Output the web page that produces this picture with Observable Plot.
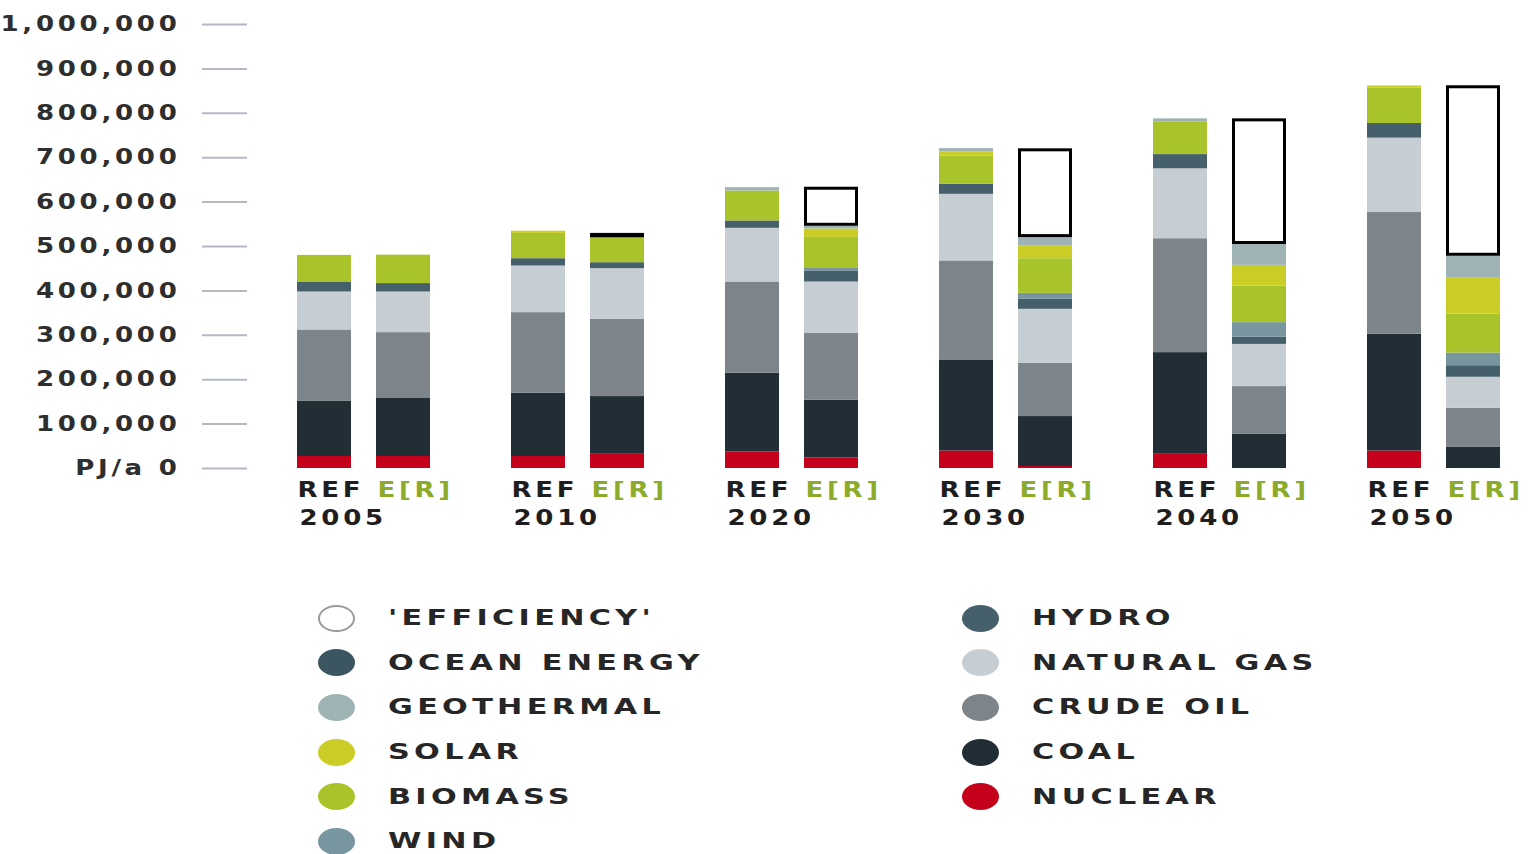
<!DOCTYPE html>
<html>
<head>
<meta charset="utf-8">
<script src="https://cdn.jsdelivr.net/npm/d3@7"></script>
<script src="https://cdn.jsdelivr.net/npm/@observablehq/plot@0.6"></script>
<style>
  html, body { margin: 0; padding: 0; background: #fff; }
  body { width: 1530px; height: 854px; overflow: hidden; font-family: "DejaVu Sans", sans-serif; }
  #legend { display: grid; grid-template-columns: 644px 560px; padding-left: 318px; padding-top: 51px; }
  .col { display: flex; flex-direction: column; }
  .item { display: flex; align-items: center; height: 44.6px; }
  .dot { width: 37px; height: 27px; border-radius: 50%; box-sizing: border-box; margin-right: 33px; flex: none; }
  .lab { display: inline-block; font-size: 21px; font-weight: bold; letter-spacing: 3px; color: #262626; white-space: nowrap;
         transform: scaleX(1.44); transform-origin: left center; }
</style>
</head>
<body>
<div id="chart"></div>
<div id="legend"></div>
<script>
// ---- data (PJ/a) ----
const years = ["2005", "2010", "2020", "2030", "2040", "2050"];
const scenarios = ["REF", "E[R]"];
// order of each array: 2005 REF, 2005 E[R], 2010 REF, 2010 E[R], ... 2050 REF, 2050 E[R]
const nuclear    = [27000, 27000, 27000, 32000, 37500, 24000, 39500, 4500, 32000, 0, 39500, 0];
const coal       = [125000, 132000, 142500, 130000, 177000, 130000, 205000, 112500, 229000, 77000, 263000, 47500];
const crudeOil   = [160000, 147000, 181500, 174000, 205500, 150000, 223000, 120000, 256500, 107500, 274000, 88000];
const naturalGas = [85500, 91500, 105000, 114000, 121000, 116000, 150000, 121500, 157500, 95000, 167500, 70000];
const hydro      = [22500, 19000, 16500, 13500, 16500, 25000, 22500, 22500, 32000, 16500, 33000, 26000];
const oceanEnergy= [0, 0, 0, 0, 0, 0, 0, 0, 0, 0, 0, 0];
const wind       = [0, 0, 0, 0, 0, 5500, 0, 13500, 0, 32500, 0, 28500];
const biomass    = [60000, 64000, 57000, 56000, 67500, 70000, 64000, 78000, 73000, 82500, 79500, 88000];
const solar      = [0, 0, 5000, 0, 0, 19000, 9000, 28500, 0, 46500, 5000, 80500];
const geothermal = [0, 0, 0, 0, 7500, 6000, 7500, 19000, 7500, 47000, 0, 49500];
const efficiency = [0, 0, 0, 10000, 0, 88000, 0, 200000, 0, 283000, 0, 384000];

const sources = ["NUCLEAR", "COAL", "CRUDE OIL", "NATURAL GAS", "HYDRO", "OCEAN ENERGY", "WIND", "BIOMASS", "SOLAR", "GEOTHERMAL"];
const sourceValues = [nuclear, coal, crudeOil, naturalGas, hydro, oceanEnergy, wind, biomass, solar, geothermal];
const sourceColors = ["#c4001a", "#222e35", "#7d858a", "#c6ced3", "#45606a", "#3b5661", "#7896a0", "#a9c42a", "#cacd26", "#9fb3b5"];

const yTicks = [0, 100000, 200000, 300000, 400000, 500000, 600000, 700000, 800000, 900000, 1000000];

const legendLeft = ["'EFFICIENCY'", "OCEAN ENERGY", "GEOTHERMAL", "SOLAR", "BIOMASS", "WIND"];
const legendRight = ["HYDRO", "NATURAL GAS", "CRUDE OIL", "COAL", "NUCLEAR"];

// ---- build stacked table ----
const rows = [];
const effRows = [];
years.forEach((year, yi) => {
  scenarios.forEach((scen, si) => {
    const idx = yi * 2 + si;
    let cum = 0;
    sources.forEach((src, k) => {
      const v = sourceValues[k][idx];
      if (v > 0) rows.push({year, scen, source: src, y1: cum, y2: cum + v});
      cum += v;
    });
    if (efficiency[idx] > 0) effRows.push({year, scen, y1: cum, y2: cum + efficiency[idx]});
  });
});
const labelRows = [];
years.forEach(year => scenarios.forEach(scen => labelRows.push({year, scen})));

const chart = Plot.plot({
  width: 1530,
  height: 545,
  marginLeft: 295,
  marginRight: 27,
  marginTop: 24,
  marginBottom: 77,
  style: {fontFamily: "DejaVu Sans, sans-serif", background: "white"},
  fx: {domain: years, paddingInner: 0.372, paddingOuter: 0, axis: null},
  x: {domain: scenarios, paddingInner: 0.3125, paddingOuter: 0, axis: null},
  y: {domain: [0, 1000000], axis: null},
  color: {domain: sources, range: sourceColors},
  marks: [
    Plot.axisY(yTicks, {
      anchor: "left",
      tickSize: 45,
      tickPadding: 22,
      dx: -50,
      stroke: "#b3b8c3",
      strokeWidth: 2,
      fill: "#2e2e2e",
      fontSize: 21,
      fontWeight: "bold",
      tickFormat: d => d === 0 ? "PJ/a 0" : d3.format(",")(d)
    }),
    Plot.rectY(rows, {fx: "year", x: "scen", y1: "y1", y2: "y2", fill: "source"}),
    Plot.rectY(effRows, {fx: "year", x: "scen", y1: "y1", y2: "y2", fill: "white", stroke: "black", strokeWidth: 3, inset: 1.5}),
    Plot.text(labelRows.filter(d => d.scen === "REF"), {
      fx: "year", x: "scen", text: "scen", frameAnchor: "bottom", dy: 28, dx: -27,
      textAnchor: "start", fill: "#1e1e1e", fontSize: 21, fontWeight: "bold"
    }),
    Plot.text(labelRows.filter(d => d.scen === "E[R]"), {
      fx: "year", x: "scen", text: "scen", frameAnchor: "bottom", dy: 28, dx: -26,
      textAnchor: "start", fill: "#8dab2a", fontSize: 21, fontWeight: "bold"
    }),
    Plot.text(years, {
      fx: d => d, text: d => d, frameAnchor: "bottom-left", dy: 56, dx: 2,
      textAnchor: "start", fill: "#1e1e1e", fontSize: 21, fontWeight: "bold"
    })
  ]
});
document.getElementById("chart").appendChild(chart);

// widen the lettering horizontally, around each text's own anchor point
const S = 1.24;
chart.querySelectorAll("text").forEach(t => {
  const xl = t.x && t.x.baseVal && t.x.baseVal.numberOfItems ? t.x.baseVal.getItem(0).value : 0;
  const yl = t.y && t.y.baseVal && t.y.baseVal.numberOfItems ? t.y.baseVal.getItem(0).value : 0;
  const x = isFinite(xl) ? xl : 0, y = isFinite(yl) ? yl : 0;
  const tr = t.getAttribute("transform") || "";
  t.setAttribute("transform", `${tr} translate(${x},${y}) scale(${S},1) translate(${-x},${-y})`);
  t.setAttribute("letter-spacing", "3");
});

// ---- legend ----
const colorOf = Object.fromEntries(sources.map((s, i) => [s, sourceColors[i]]));
function makeCol(labels) {
  const col = document.createElement("div");
  col.className = "col";
  labels.forEach(l => {
    const item = document.createElement("div");
    item.className = "item";
    const dot = document.createElement("span");
    dot.className = "dot";
    if (l === "'EFFICIENCY'") {
      dot.style.background = "white";
      dot.style.border = "2px solid #9a9a9a";
    } else {
      dot.style.background = colorOf[l];
    }
    const lab = document.createElement("span");
    lab.className = "lab";
    lab.textContent = l;
    item.appendChild(dot);
    item.appendChild(lab);
    col.appendChild(item);
  });
  return col;
}
const legend = document.getElementById("legend");
legend.appendChild(makeCol(legendLeft));
legend.appendChild(makeCol(legendRight));
</script>
</body>
</html>
